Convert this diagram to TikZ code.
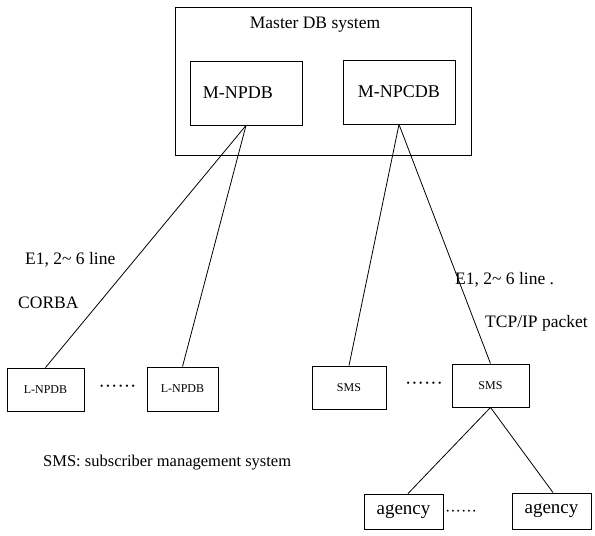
\documentclass[tikz,border=0pt]{standalone}
\usepackage{fontspec}
\setmainfont{Liberation Serif}
\begin{document}
\begin{tikzpicture}[x=1pt,y=-1pt,
  box/.style={draw, line width=0.9pt, inner sep=0pt, anchor=center},
  bigbox/.style={box, minimum width=112pt, minimum height=64pt, font=\fontsize{18}{20}\selectfont},
  smallbox/.style={box, minimum height=43pt, font=\fontsize{12}{14}\selectfont},
  agbox/.style={box, minimum width=79pt, minimum height=36pt, font=\fontsize{19}{22}\selectfont},
  lbl/.style={inner sep=0pt, anchor=west, font=\fontsize{17.5}{20}\selectfont},
  dots/.style={inner sep=0pt, font=\fontsize{19}{20}\selectfont},
  link/.style={line width=0.8pt}]
\useasboundingbox (0,0) rectangle (595,536);
% master system
\node[box, minimum width=296pt, minimum height=148pt] (master) at (323,81) {};
\node[inner sep=0pt, font=\fontsize{17.5}{20}\selectfont] (mtitle) at (315,25) {Master DB system};
\node[bigbox] (mnpdb) at (246,93) {\hspace*{-16pt}M-NPDB};
\node[bigbox] (mnpcdb) at (399,92) {M-NPCDB};
% local nodes
\node[smallbox, minimum width=77pt] (lnpdb1) at (45.5,389.5) {L-NPDB};
\node[smallbox, minimum width=71pt, minimum height=44pt] (lnpdb2) at (182.5,389) {L-NPDB};
\node[dots] (ldots) at (117.5,389) {······};
\node[smallbox, minimum width=74pt] (sms1) at (349,387.5) {SMS};
\node[smallbox, minimum width=77pt] (sms2) at (490.5,385.5) {SMS};
\node[dots] (sdots) at (424,386) {······};
\node[agbox, minimum height=35pt] (ag1) at (403.5,511.5) {agency};
\node[agbox] (ag2) at (551.5,511) {agency};
\node[dots, font=\fontsize{16}{18}\selectfont] (adots) at (461,513) {······};
% labels
\node[lbl] (e1l) at (25,260) {E1, 2\textasciitilde\ 6 line};
\node[lbl] (corba) at (18,303) {CORBA};
\node[lbl] (e1r) at (455,280) {E1, 2\textasciitilde\ 6 line .};
\node[lbl] (tcp) at (485,323) {TCP/IP packet};
\node[lbl, font=\fontsize{16.5}{19}\selectfont] (foot) at (43,463) {SMS: subscriber management system};
% connectors
\draw[link] (mnpdb.south) -- (lnpdb1.north);
\draw[link] (mnpdb.south) -- (lnpdb2.north);
\draw[link] (mnpcdb.south) -- (sms1.north);
\draw[link] (mnpcdb.south) -- (sms2.north);
\draw[link] (sms2.south) -- ([xshift=4.5pt]ag1.north);
\draw[link] (sms2.south) -- ([xshift=1.5pt]ag2.north);
\end{tikzpicture}
\end{document}
